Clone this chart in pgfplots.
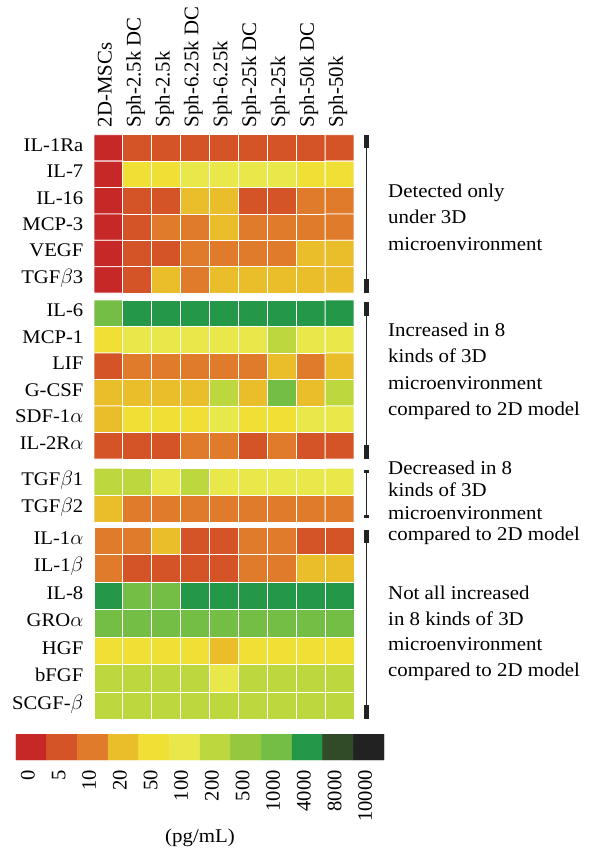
\documentclass[border=0pt]{standalone}
\usepackage{pgfplots}
\usepackage{pgfplotstable}
\usepackage{fontspec}
\setmainfont{Liberation Serif}
\newfontfamily\widef[FakeStretch=1.07]{Liberation Serif}
\pgfplotsset{compat=1.18}
\newcommand\bigf{\widef\fontsize{19.5}{23}\selectfont}
\newcommand\rowf{\widef\fontsize{19.3}{23}\selectfont}
\newcommand\colf{\fontsize{20.8}{24}\selectfont}
\newcommand\cbf{\fontsize{20.6}{23}\selectfont}
\pgfplotsset{colormap={heat}{rgb255=(198,40,40) rgb255=(212,84,39) rgb255=(223,123,42) rgb255=(234,189,43) rgb255=(240,224,54) rgb255=(233,232,75) rgb255=(189,215,62) rgb255=(149,200,62) rgb255=(116,190,69) rgb255=(37,151,72) rgb255=(49,74,39) rgb255=(34,34,34)}}

\pgfplotstableread[row sep=\\]{
x y c\\
0.5 -147.9 0\\ 1.5 -147.9 1\\ 2.5 -147.9 1\\ 3.5 -147.9 1\\ 4.5 -147.9 1\\ 5.5 -147.9 1\\ 6.5 -147.9 1\\ 7.5 -147.9 1\\ 8.5 -147.9 1\\
0.5 -174.3 0\\ 1.5 -174.3 4\\ 2.5 -174.3 4\\ 3.5 -174.3 5\\ 4.5 -174.3 5\\ 5.5 -174.3 5\\ 6.5 -174.3 5\\ 7.5 -174.3 4\\ 8.5 -174.3 4\\
0.5 -200.7 0\\ 1.5 -200.7 1\\ 2.5 -200.7 1\\ 3.5 -200.7 3\\ 4.5 -200.7 3\\ 5.5 -200.7 1\\ 6.5 -200.7 1\\ 7.5 -200.7 2\\ 8.5 -200.7 2\\
0.5 -227.1 0\\ 1.5 -227.1 1\\ 2.5 -227.1 2\\ 3.5 -227.1 2\\ 4.5 -227.1 3\\ 5.5 -227.1 2\\ 6.5 -227.1 2\\ 7.5 -227.1 2\\ 8.5 -227.1 2\\
0.5 -253.5 0\\ 1.5 -253.5 1\\ 2.5 -253.5 1\\ 3.5 -253.5 2\\ 4.5 -253.5 2\\ 5.5 -253.5 2\\ 6.5 -253.5 2\\ 7.5 -253.5 3\\ 8.5 -253.5 3\\
0.5 -279.9 0\\ 1.5 -279.9 1\\ 2.5 -279.9 3\\ 3.5 -279.9 2\\ 4.5 -279.9 3\\ 5.5 -279.9 3\\ 6.5 -279.9 3\\ 7.5 -279.9 3\\ 8.5 -279.9 3\\
}\gone

\pgfplotstableread[row sep=\\]{
x y c\\
0.5 -313.25 8\\ 1.5 -313.25 9\\ 2.5 -313.25 9\\ 3.5 -313.25 9\\ 4.5 -313.25 9\\ 5.5 -313.25 9\\ 6.5 -313.25 9\\ 7.5 -313.25 9\\ 8.5 -313.25 9\\
0.5 -339.75 4\\ 1.5 -339.75 5\\ 2.5 -339.75 5\\ 3.5 -339.75 5\\ 4.5 -339.75 5\\ 5.5 -339.75 5\\ 6.5 -339.75 6\\ 7.5 -339.75 5\\ 8.5 -339.75 5\\
0.5 -366.25 1\\ 1.5 -366.25 2\\ 2.5 -366.25 2\\ 3.5 -366.25 2\\ 4.5 -366.25 2\\ 5.5 -366.25 2\\ 6.5 -366.25 3\\ 7.5 -366.25 2\\ 8.5 -366.25 3\\
0.5 -392.75 3\\ 1.5 -392.75 3\\ 2.5 -392.75 3\\ 3.5 -392.75 3\\ 4.5 -392.75 6\\ 5.5 -392.75 3\\ 6.5 -392.75 8\\ 7.5 -392.75 3\\ 8.5 -392.75 6\\
0.5 -419.25 3\\ 1.5 -419.25 4\\ 2.5 -419.25 4\\ 3.5 -419.25 4\\ 4.5 -419.25 5\\ 5.5 -419.25 4\\ 6.5 -419.25 4\\ 7.5 -419.25 5\\ 8.5 -419.25 5\\
0.5 -445.75 1\\ 1.5 -445.75 1\\ 2.5 -445.75 1\\ 3.5 -445.75 2\\ 4.5 -445.75 2\\ 5.5 -445.75 1\\ 6.5 -445.75 2\\ 7.5 -445.75 1\\ 8.5 -445.75 1\\
}\gtwo

\pgfplotstableread[row sep=\\]{
x y c\\
0.5 -481.8 6\\ 1.5 -481.8 6\\ 2.5 -481.8 5\\ 3.5 -481.8 6\\ 4.5 -481.8 5\\ 5.5 -481.8 5\\ 6.5 -481.8 5\\ 7.5 -481.8 5\\ 8.5 -481.8 5\\
0.5 -509.0 3\\ 1.5 -509.0 2\\ 2.5 -509.0 2\\ 3.5 -509.0 2\\ 4.5 -509.0 2\\ 5.5 -509.0 2\\ 6.5 -509.0 2\\ 7.5 -509.0 2\\ 8.5 -509.0 2\\
}\gthree

\pgfplotstableread[row sep=\\]{
x y c\\
0.5 -541.05 2\\ 1.5 -541.05 2\\ 2.5 -541.05 3\\ 3.5 -541.05 1\\ 4.5 -541.05 1\\ 5.5 -541.05 2\\ 6.5 -541.05 2\\ 7.5 -541.05 1\\ 8.5 -541.05 1\\
0.5 -568.55 2\\ 1.5 -568.55 1\\ 2.5 -568.55 1\\ 3.5 -568.55 1\\ 4.5 -568.55 1\\ 5.5 -568.55 2\\ 6.5 -568.55 2\\ 7.5 -568.55 3\\ 8.5 -568.55 3\\
0.5 -596.05 9\\ 1.5 -596.05 8\\ 2.5 -596.05 8\\ 3.5 -596.05 9\\ 4.5 -596.05 9\\ 5.5 -596.05 9\\ 6.5 -596.05 9\\ 7.5 -596.05 9\\ 8.5 -596.05 9\\
0.5 -623.55 8\\ 1.5 -623.55 8\\ 2.5 -623.55 8\\ 3.5 -623.55 8\\ 4.5 -623.55 8\\ 5.5 -623.55 8\\ 6.5 -623.55 8\\ 7.5 -623.55 8\\ 8.5 -623.55 8\\
0.5 -651.05 4\\ 1.5 -651.05 4\\ 2.5 -651.05 4\\ 3.5 -651.05 4\\ 4.5 -651.05 3\\ 5.5 -651.05 4\\ 6.5 -651.05 4\\ 7.5 -651.05 4\\ 8.5 -651.05 4\\
0.5 -678.55 6\\ 1.5 -678.55 6\\ 2.5 -678.55 6\\ 3.5 -678.55 6\\ 4.5 -678.55 5\\ 5.5 -678.55 6\\ 6.5 -678.55 6\\ 7.5 -678.55 6\\ 8.5 -678.55 6\\
0.5 -706.05 6\\ 1.5 -706.05 6\\ 2.5 -706.05 6\\ 3.5 -706.05 6\\ 4.5 -706.05 6\\ 5.5 -706.05 6\\ 6.5 -706.05 6\\ 7.5 -706.05 6\\ 8.5 -706.05 6\\
}\gfour

\pgfplotstableread[row sep=\\]{
x y c\\
0.5 0.25 0\\ 1.5 0.25 1\\ 2.5 0.25 2\\ 3.5 0.25 3\\ 4.5 0.25 4\\ 5.5 0.25 5\\ 6.5 0.25 6\\ 7.5 0.25 7\\ 8.5 0.25 8\\ 9.5 0.25 9\\ 10.5 0.25 10\\ 11.5 0.25 11\\
0.5 0.75 0\\ 1.5 0.75 1\\ 2.5 0.75 2\\ 3.5 0.75 3\\ 4.5 0.75 4\\ 5.5 0.75 5\\ 6.5 0.75 6\\ 7.5 0.75 7\\ 8.5 0.75 8\\ 9.5 0.75 9\\ 10.5 0.75 10\\ 11.5 0.75 11\\
}\cbar

\begin{document}
\begin{tikzpicture}
\path[use as bounding box] (0,0) rectangle (595pt,-854pt);
\begin{axis}[
  at={(94pt,-719.8pt)}, anchor=south west,
  scale only axis, width=260pt, height=585.1pt,
  xmin=0, xmax=9, ymin=-719.8, ymax=-134.7,
  enlargelimits=false, clip=false,
  axis line style={draw=none}, tick style={draw=none}, major tick length=0pt,
  colormap name=heat, colormap access=direct,
  xtick={0.5,1.5,...,8.5},
  xticklabels={2D-MSCs,Sph-2.5k DC,Sph-2.5k,Sph-6.25k DC,Sph-6.25k,Sph-25k DC,Sph-25k,Sph-50k DC,Sph-50k},
  xticklabel pos=right,
  xticklabel style={font=\colf, rotate=90, anchor=west, inner sep=7.5pt, text height=0.66em, text depth=0pt},
  ytick={-147.9,-174.3,-200.7,-227.1,-253.5,-279.9,-313.25,-339.75,-366.25,-392.75,-419.25,-445.75,-481.8,-509.0,-541.05,-568.55,-596.05,-623.55,-651.05,-678.55,-706.05},
  yticklabels={IL-1Ra,IL-7,IL-16,MCP-3,VEGF,TGF$\beta$3,IL-6,MCP-1,LIF,G-CSF,SDF-1$\alpha$,IL-2R$\alpha$,TGF$\beta$1,TGF$\beta$2,IL-1$\alpha$,IL-1$\beta$,IL-8,GRO$\alpha$,HGF,bFGF,SCGF-$\beta$},
  yticklabel style={font=\rowf, anchor=east, inner sep=10.5pt, text height=0.66em, text depth=0pt},
]
\addplot[matrix plot*, mesh/cols=9, point meta=explicit, draw=white, line width=0.8pt] table[meta=c] {\gone};
\addplot[matrix plot*, mesh/cols=9, point meta=explicit, draw=white, line width=0.8pt] table[meta=c] {\gtwo};
\addplot[matrix plot*, mesh/cols=9, point meta=explicit, draw=white, line width=0.8pt] table[meta=c] {\gthree};
\addplot[matrix plot*, mesh/cols=9, point meta=explicit, draw=white, line width=0.8pt] table[meta=c] {\gfour};
\end{axis}

\begin{axis}[
  at={(16pt,-760pt)}, anchor=south west,
  scale only axis, width=368pt, height=26pt,
  xmin=0, xmax=12, ymin=0, ymax=1,
  enlargelimits=false,
  axis line style={draw=none}, tick style={draw=none}, major tick length=0pt,
  colormap name=heat, colormap access=direct,
  ytick=\empty,
  xtick={0.5,1.5,...,11.5},
  xticklabels={0,5,10,20,50,100,200,500,1000,4000,8000,10000},
  xticklabel style={font=\cbf, rotate=90, anchor=east, inner sep=10pt, text height=0.66em, text depth=0pt},
]
\addplot[matrix plot, mesh/cols=12, point meta=explicit] table[meta=c] {\cbar};
\end{axis}

\node[font=\bigf, anchor=base] at (200pt,-842pt) {(pg/mL)};

\definecolor{brk}{HTML}{222222}
\begin{scope}[brk]
\draw[line width=1.3pt] (366.5pt,-136pt) -- (366.5pt,-292pt);
\fill (364pt,-135pt) rectangle (369pt,-148pt);
\fill (364pt,-279pt) rectangle (369pt,-293pt);
\draw[line width=1.3pt] (366.5pt,-303pt) -- (366.5pt,-458pt);
\fill (364pt,-302pt) rectangle (369pt,-316pt);
\fill (364pt,-445pt) rectangle (369pt,-459pt);
\draw[line width=1.3pt] (366.5pt,-470pt) -- (366.5pt,-518pt);
\fill (364pt,-470pt) rectangle (369pt,-473pt);
\fill (364pt,-515pt) rectangle (369pt,-518pt);
\draw[line width=1.3pt] (366.5pt,-531pt) -- (366.5pt,-718pt);
\fill (364pt,-530pt) rectangle (369pt,-543pt);
\fill (364pt,-705pt) rectangle (369pt,-719pt);
\end{scope}

\begin{scope}[every node/.style={font=\bigf, anchor=base west, inner sep=0pt}]
\node at (388pt,-197pt) {Detected only};
\node at (388pt,-223.5pt) {under 3D};
\node at (388pt,-250pt) {microenvironment};
\node at (388pt,-336.7pt) {Increased in 8};
\node at (388pt,-362.7pt) {kinds of 3D};
\node at (388pt,-389.3pt) {microenvironment};
\node at (388pt,-415pt) {compared to 2D model};
\node at (388pt,-474pt) {Decreased in 8};
\node at (388pt,-496.7pt) {kinds of 3D};
\node at (388pt,-519.3pt) {microenvironment};
\node at (388pt,-540.7pt) {compared to 2D model};
\node at (388pt,-599.3pt) {Not all increased};
\node at (388pt,-625pt) {in 8 kinds of 3D};
\node at (388pt,-650pt) {microenvironment};
\node at (388pt,-676pt) {compared to 2D model};
\end{scope}
\end{tikzpicture}
\end{document}
